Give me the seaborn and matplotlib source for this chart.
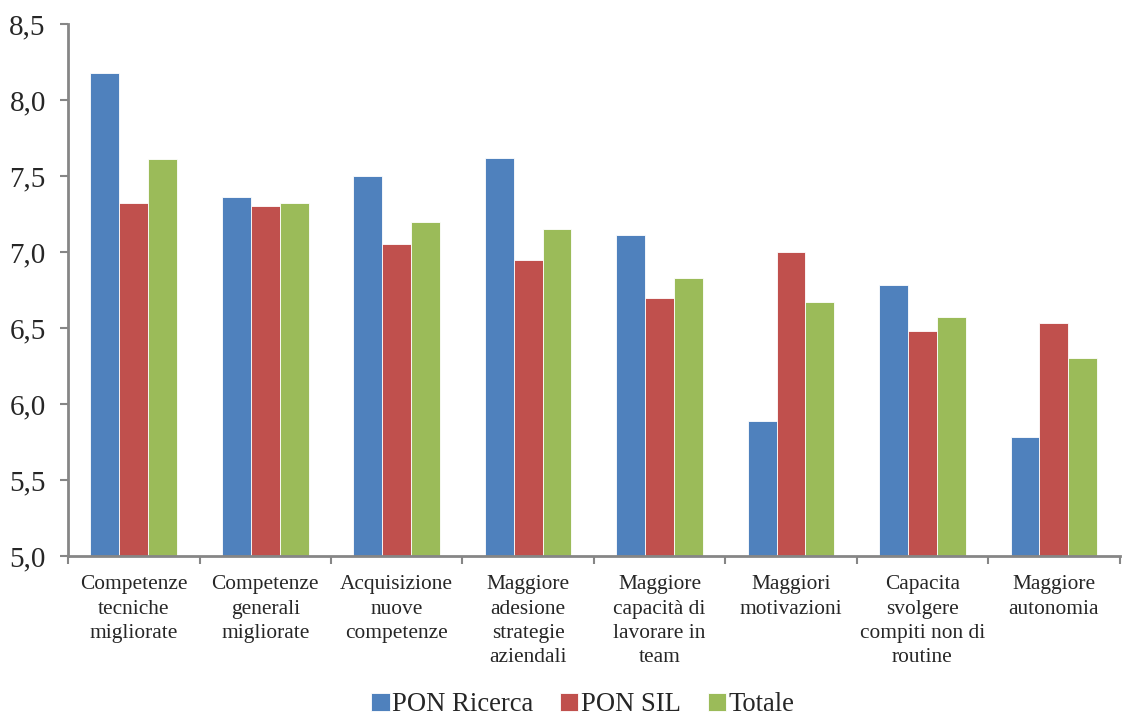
"""
Grouped bar chart: valutazione degli effetti della formazione (PON Ricerca, PON SIL, Totale).
"""

import pandas as pd
import matplotlib.pyplot as plt
import seaborn as sns
from matplotlib.ticker import FuncFormatter, FixedLocator

categories = [
    "Competenze\ntecniche\nmigliorate",
    "Competenze\ngenerali\nmigliorate",
    "Acquisizione\nnuove\ncompetenze",
    "Maggiore\nadesione\nstrategie\naziendali",
    "Maggiore\ncapacità di\nlavorare in\nteam",
    "Maggiori\nmotivazioni",
    "Capacita\nsvolgere\ncompiti non di\nroutine",
    "Maggiore\nautonomia",
]
series_names = ["PON Ricerca", "PON SIL", "Totale"]
pon_ricerca = [8.18, 7.36, 7.50, 7.62, 7.11, 5.89, 6.78, 5.78]
pon_sil = [7.32, 7.30, 7.05, 6.95, 6.70, 7.00, 6.48, 6.53]
totale = [7.61, 7.32, 7.20, 7.15, 6.83, 6.67, 6.57, 6.30]
colors = ["#4F81BD", "#C0504D", "#9BBB59"]

# long-form table for seaborn
df = pd.DataFrame({
    "categoria": categories * 3,
    "serie": [s for s in series_names for _ in categories],
    "valore": pon_ricerca + pon_sil + totale,
})

sns.set_style("white")
plt.rcParams["font.family"] = ["Liberation Serif", "DejaVu Serif"]

fig = plt.figure(figsize=(11.23, 7.17), dpi=100)
ax = fig.add_axes([0.0606, 0.2245, 0.9364, 0.742])

sns.barplot(data=df, x="categoria", y="valore", hue="serie",
            palette=colors, width=0.66, ax=ax, legend=True,
            edgecolor="white", linewidth=0.6, saturation=1)

ax.set_ylim(5.0, 8.5)
ax.set_xlim(-0.5, len(categories) - 0.5)
ax.set_yticks([5.0, 5.5, 6.0, 6.5, 7.0, 7.5, 8.0, 8.5])
ax.yaxis.set_major_formatter(FuncFormatter(lambda v, p: f"{v:.1f}".replace(".", ",")))
ax.tick_params(axis="y", labelsize=21, length=6, width=1.5, color="#868686",
               direction="out", left=True, pad=10)

# category labels centered, ticks at group boundaries
ax.set_xticks(range(len(categories)))
ax.set_xticklabels(categories, fontsize=15.4, linespacing=1.36)
ax.tick_params(axis="x", which="major", length=0, pad=14)
ax.xaxis.set_minor_locator(FixedLocator([i - 0.5 for i in range(len(categories) + 1)]))
ax.tick_params(axis="x", which="minor", length=6, width=1.5, color="#868686",
               direction="out", bottom=True)

ax.set_xlabel("")
ax.set_ylabel("")
for side in ["top", "right"]:
    ax.spines[side].set_visible(False)
for side in ["left", "bottom"]:
    ax.spines[side].set_color("#868686")
    ax.spines[side].set_linewidth(2)

handles, labels = ax.get_legend_handles_labels()
ax.get_legend().remove()
fig.legend(handles, labels, loc="lower center", bbox_to_anchor=(0.519, -0.034),
           ncol=3, frameon=False, fontsize=19.2, handlelength=0.68,
           handleheight=0.68, handletextpad=0.1, columnspacing=1.0)

fig.savefig("out.png", dpi=100)
